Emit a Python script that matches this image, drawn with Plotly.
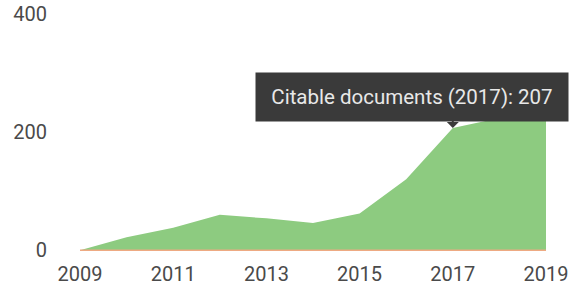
import plotly.graph_objects as go

years = [2009, 2010, 2011, 2012, 2013, 2014, 2015, 2016, 2017, 2018, 2019]
citable = [0, 22, 38, 60, 54, 46, 62, 120, 207, 224, 232]
non_citable = [0, 0, 0, 0, 0, 0, 0, 0, 0, 0, 0]
y_ticks = [0, 200, 400]
x_ticks = [2009, 2011, 2013, 2015, 2017, 2019]
tip_year = 2017
tip_value = 207

GREEN = "rgb(141,203,128)"
ORANGE = "rgb(238,170,130)"
TIP_BG = "rgb(58,58,58)"

fig = go.Figure()
fig.add_trace(go.Scatter(
    x=years, y=citable, mode="lines", fill="tozeroy",
    line=dict(color=GREEN, width=0), fillcolor=GREEN,
    name="Citable documents", hoverinfo="skip",
))
fig.add_trace(go.Scatter(
    x=years, y=non_citable, mode="lines",
    line=dict(color=ORANGE, width=1.5),
    name="Non-citable documents", hoverinfo="skip",
))

# tooltip pointer (triangle)
fig.add_annotation(
    x=tip_year, y=tip_value, xref="x", yref="y", text="",
    showarrow=True, arrowhead=1, arrowwidth=2, arrowsize=1,
    arrowcolor=TIP_BG, ax=0, ay=-20,
)
# tooltip box
fig.add_annotation(
    x=tip_year, y=tip_value, xref="x", yref="y",
    text=f"Citable documents ({tip_year}): {tip_value}",
    showarrow=False, xanchor="left", yanchor="bottom",
    xshift=-198, yshift=6,
    width=288, height=24, borderpad=12, align="center",
    bgcolor=TIP_BG, font=dict(family="Roboto", size=20.5, color="rgb(232,232,232)"),
)

fig.update_layout(
    width=571, height=288,
    margin=dict(l=80, r=25, t=8, b=36),
    paper_bgcolor="white", plot_bgcolor="white",
    showlegend=False, hovermode=False,
    font=dict(family="Roboto", size=20, color="#4a4a4a"),
    xaxis=dict(range=[2009, 2019], tickmode="array", tickvals=x_ticks,
               ticktext=[str(v) for v in x_ticks], showgrid=False,
               zeroline=False, showline=False, ticks="", automargin=False,
               ticklabelstandoff=8),
    yaxis=dict(range=[-3, 410], tickmode="array", tickvals=y_ticks,
               ticktext=[str(v) for v in y_ticks], showgrid=False,
               zeroline=False, showline=False, ticks="", automargin=False,
               ticklabelstandoff=32),
)

fig.write_html(
    "out.html",
    config={"displayModeBar": False},
    post_script="document.body.style.margin='0';document.body.style.overflow='hidden';",
)
